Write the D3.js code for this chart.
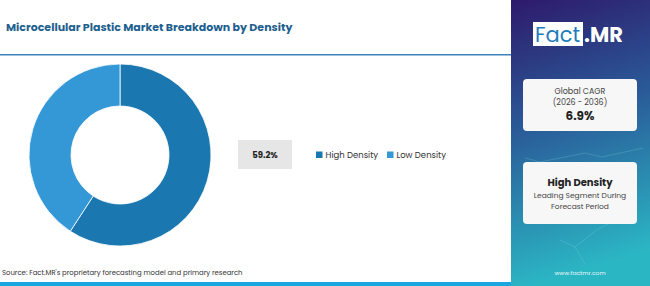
<!DOCTYPE html>
<html>
<head>
<meta charset="utf-8">
<script src="https://cdn.jsdelivr.net/npm/d3@7"></script>
<style>
  body { margin: 0; padding: 0; background: #fff; }
  svg { display: block; font-family: "Poppins", "Inter", "Open Sans", sans-serif; }
</style>
</head>
<body>
<svg id="chart"></svg>
<script>
// data
const segments = ["High Density", "Low Density"];
const shares = [59.2, 40.8];
const colors = ["#1b77b0", "#3497d6"];
const shownLabel = "59.2%";

const cagrLines = ["Global CAGR", "(2026 - 2036)"];
const cagrValue = "6.9%";
const leadTitle = "High Density";
const leadLines = ["Leading Segment During", "Forecast Period"];

const W = 650, H = 286, sideX = 511;

const svg = d3.select("#chart").attr("width", W).attr("height", H);

const defs = svg.append("defs");
const grad = defs.append("linearGradient").attr("id", "side")
  .attr("x1", 0).attr("y1", 0).attr("x2", 0.15).attr("y2", 1);
grad.append("stop").attr("offset", "0%").attr("stop-color", "#2e1a6c");
grad.append("stop").attr("offset", "45%").attr("stop-color", "#2a5a98");
grad.append("stop").attr("offset", "100%").attr("stop-color", "#2bb6c4");

// title + rule
svg.append("text")
  .attr("x", 6).attr("y", 31)
  .attr("font-weight", "bold")
  .style("font-size", "11px")
  .attr("fill", "#1d5f8f")
  .text("Microcellular Plastic Market Breakdown by Density");

svg.append("rect").attr("x", 0).attr("y", 54).attr("width", sideX).attr("height", 1.5).attr("fill", "#3b82bb");
svg.append("rect").attr("x", 0).attr("y", 282).attr("width", sideX).attr("height", 4).attr("fill", "#1aa6df");

// donut
const cx = 120, cy = 155;
const pie = d3.pie().sort(null).value(d => d);
const arc = d3.arc().innerRadius(49).outerRadius(91);

svg.append("g")
  .attr("transform", `translate(${cx},${cy})`)
  .selectAll("path")
  .data(pie(shares))
  .join("path")
    .attr("d", arc)
    .attr("fill", (d, i) => colors[i])
    .attr("stroke", "#fff")
    .attr("stroke-width", 0.8);

// value box
svg.append("rect").attr("x", 238).attr("y", 140).attr("width", 54).attr("height", 29).attr("fill", "#e6e6e6");
svg.append("text")
  .attr("x", 265).attr("y", 158)
  .attr("text-anchor", "middle")
  .attr("font-weight", "bold")
  .style("font-size", "8.5px")
  .attr("fill", "#222")
  .text(shownLabel);

// legend
const legendX = [316, 387];
const legend = svg.append("g");
segments.forEach((s, i) => {
  legend.append("rect")
    .attr("x", legendX[i]).attr("y", 151.5)
    .attr("width", 6.5).attr("height", 6.5)
    .attr("fill", colors[i]);
  legend.append("text")
    .attr("x", legendX[i] + 9.5).attr("y", 158)
    .style("font-size", "8.5px")
    .attr("fill", "#333")
    .text(s);
});

// sidebar
svg.append("rect").attr("x", sideX).attr("y", 0).attr("width", W - sideX).attr("height", H).attr("fill", "url(#side)");

// faint network lines in sidebar
const netPts = [[525, 158], [540, 162], [585, 153], [602, 157], [643, 148], [560, 240], [575, 247], [620, 218], [598, 229], [585, 264]];
const netLinks = [[0, 1], [1, 2], [2, 3], [3, 4], [5, 6], [6, 8], [8, 7], [6, 9]];
svg.append("g").selectAll("line").data(netLinks).join("line")
  .attr("x1", d => netPts[d[0]][0]).attr("y1", d => netPts[d[0]][1])
  .attr("x2", d => netPts[d[1]][0]).attr("y2", d => netPts[d[1]][1])
  .attr("stroke", "#9fe3ea").attr("stroke-opacity", 0.35).attr("stroke-width", 0.6);

// logo
svg.append("rect").attr("x", 533).attr("y", 22).attr("width", 50).attr("height", 24).attr("fill", "#fff");
svg.append("text").attr("x", 535).attr("y", 42)
  .style("font-size", "21px").attr("fill", "#1f7dbd").text("Fact");
svg.append("text").attr("x", 584).attr("y", 42)
  .style("font-size", "21px").attr("font-weight", "bold").attr("fill", "#fff").text(".MR");

// cards
svg.append("rect").attr("x", 523).attr("y", 79).attr("width", 114).attr("height", 52).attr("rx", 4).attr("fill", "#f7f7f7");
svg.append("rect").attr("x", 523).attr("y", 162).attr("width", 114).attr("height", 62).attr("rx", 4).attr("fill", "#f7f7f7");

const midX = 580;
cagrLines.forEach((t, i) => {
  svg.append("text").attr("x", midX).attr("y", 94 + i * 11)
    .attr("text-anchor", "middle").style("font-size", "8px").attr("fill", "#444").text(t);
});
svg.append("text").attr("x", midX).attr("y", 120)
  .attr("text-anchor", "middle").attr("font-weight", "bold").style("font-size", "12px").attr("fill", "#222").text(cagrValue);

svg.append("text").attr("x", midX).attr("y", 186)
  .attr("text-anchor", "middle").attr("font-weight", "bold").style("font-size", "10px").attr("fill", "#222").text(leadTitle);
leadLines.forEach((t, i) => {
  svg.append("text").attr("x", midX).attr("y", 198 + i * 11)
    .attr("text-anchor", "middle").style("font-size", "7.5px").attr("fill", "#444").text(t);
});

svg.append("text").attr("x", midX).attr("y", 275)
  .attr("text-anchor", "middle").style("font-size", "6px").attr("fill", "#e8f6fa").text("www.factmr.com");

// source
svg.append("text").attr("x", 2).attr("y", 275)
  .style("font-size", "6.9px").attr("fill", "#333")
  .text("Source: Fact.MR's proprietary forecasting model and primary research");
</script>
</body>
</html>
